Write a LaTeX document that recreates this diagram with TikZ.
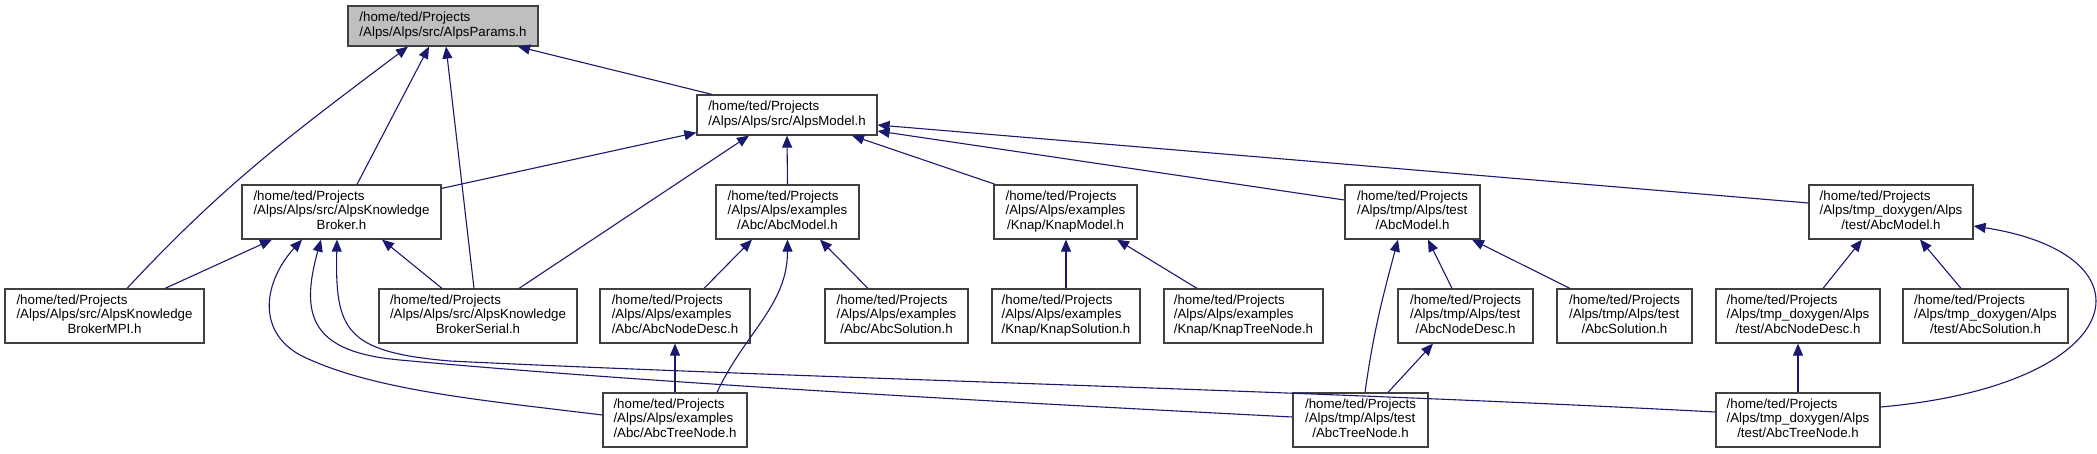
\documentclass[tikz,border=0pt]{standalone}
\usepackage{fontspec}
\setmainfont{Liberation Sans}
\usetikzlibrary{arrows.meta}
\definecolor{edgecol}{RGB}{25,25,112}
\definecolor{boxcol}{RGB}{64,64,64}
\definecolor{rootfill}{RGB}{191,191,191}
\newcommand{\TwoL}[2]{\begin{tabular}{@{}l@{}}#1\\\multicolumn{1}{@{}c@{}}{#2}\end{tabular}}
\newcommand{\ThreeL}[3]{\begin{tabular}{@{}l@{}}#1\\#2\\\multicolumn{1}{@{}c@{}}{#3}\end{tabular}}
\begin{document}
\begin{tikzpicture}[x=1pt,y=-1pt,
  filebox/.style={draw=boxcol, line width=1.2pt, fill=white, inner sep=0pt,
    minimum height=54pt, font=\fontsize{13.3pt}{14.5pt}\selectfont},
  edge/.style={draw=edgecol, line width=1.1pt, -{Triangle[length=12pt,width=10pt]}}]
\fill[white] (0,0) rectangle (2097,453);
\useasboundingbox (0,0) rectangle (2097,453);
% row 1-2
\node[filebox, fill=rootfill, minimum width=190pt, minimum height=40pt] (params) at (443,26) {\TwoL{/home/ted/Projects}{/Alps/Alps/src/AlpsParams.h}};
\node[filebox, minimum width=180pt, minimum height=40pt] (model) at (787,115) {\TwoL{/home/ted/Projects}{/Alps/Alps/src/AlpsModel.h}};
% row 3
\node[filebox, minimum width=199pt] (kb) at (341.5,212) {\ThreeL{/home/ted/Projects}{/Alps/Alps/src/AlpsKnowledge}{Broker.h}};
\node[filebox, minimum width=143pt] (exmodel) at (787.5,212) {\ThreeL{/home/ted/Projects}{/Alps/Alps/examples}{/Abc/AbcModel.h}};
\node[filebox, minimum width=143pt] (knapmodel) at (1065.5,212) {\ThreeL{/home/ted/Projects}{/Alps/Alps/examples}{/Knap/KnapModel.h}};
\node[filebox, minimum width=135pt] (tmpmodel) at (1412.5,212) {\ThreeL{/home/ted/Projects}{/Alps/tmp/Alps/test}{/AbcModel.h}};
\node[filebox, minimum width=164pt] (doxmodel) at (1891,212) {\ThreeL{/home/ted/Projects}{/Alps/tmp\_doxygen/Alps}{/test/AbcModel.h}};
% row 4
\node[filebox, minimum width=199pt] (mpi) at (104.5,316) {\ThreeL{/home/ted/Projects}{/Alps/Alps/src/AlpsKnowledge}{BrokerMPI.h}};
\node[filebox, minimum width=198pt] (serial) at (478,316) {\ThreeL{/home/ted/Projects}{/Alps/Alps/src/AlpsKnowledge}{BrokerSerial.h}};
\node[filebox, minimum width=150pt] (exnodedesc) at (675,316) {\ThreeL{/home/ted/Projects}{/Alps/Alps/examples}{/Abc/AbcNodeDesc.h}};
\node[filebox, minimum width=143pt] (exsolution) at (896.5,316) {\ThreeL{/home/ted/Projects}{/Alps/Alps/examples}{/Abc/AbcSolution.h}};
\node[filebox, minimum width=148pt] (knapsol) at (1066,316) {\ThreeL{/home/ted/Projects}{/Alps/Alps/examples}{/Knap/KnapSolution.h}};
\node[filebox, minimum width=159pt] (knaptree) at (1243.5,316) {\ThreeL{/home/ted/Projects}{/Alps/Alps/examples}{/Knap/KnapTreeNode.h}};
\node[filebox, minimum width=135pt] (tmpnodedesc) at (1465.5,316) {\ThreeL{/home/ted/Projects}{/Alps/tmp/Alps/test}{/AbcNodeDesc.h}};
\node[filebox, minimum width=135pt] (tmpsol) at (1624.5,316) {\ThreeL{/home/ted/Projects}{/Alps/tmp/Alps/test}{/AbcSolution.h}};
\node[filebox, minimum width=164pt] (doxnodedesc) at (1798,316) {\ThreeL{/home/ted/Projects}{/Alps/tmp\_doxygen/Alps}{/test/AbcNodeDesc.h}};
\node[filebox, minimum width=165pt] (doxsol) at (1985.5,316) {\ThreeL{/home/ted/Projects}{/Alps/tmp\_doxygen/Alps}{/test/AbcSolution.h}};
% row 5
\node[filebox, minimum width=144pt] (extree) at (675,420) {\ThreeL{/home/ted/Projects}{/Alps/Alps/examples}{/Abc/AbcTreeNode.h}};
\node[filebox, minimum width=135pt] (tmptree) at (1360.5,420) {\ThreeL{/home/ted/Projects}{/Alps/tmp/Alps/test}{/AbcTreeNode.h}};
\node[filebox, minimum width=164pt] (doxtree) at (1798,420) {\ThreeL{/home/ted/Projects}{/Alps/tmp\_doxygen/Alps}{/test/AbcTreeNode.h}};
% edges to params
\draw[edge] ([xshift=22.5pt]mpi.north) to[out=47,in=217] ([xshift=-35pt]params.south);
\draw[edge] ([xshift=15.5pt]kb.north) -- ([xshift=-14pt]params.south);
\draw[edge] ([xshift=-4pt]serial.north) -- ([xshift=3pt]params.south);
\draw[edge] ([xshift=-75pt]model.north) -- ([xshift=75pt]params.south);
% edges to model
\draw[edge] ([yshift=-4pt]kb.north east) -- ([yshift=3pt]model.south west);
\draw[edge] ([xshift=41pt]serial.north) -- ([xshift=-38pt]model.south);
\draw[edge] (exmodel.north) -- (model.south);
\draw[edge] ([xshift=2pt]knapmodel.north west) -- ([xshift=65pt]model.south);
\draw[edge] ([yshift=12pt]tmpmodel.west) -- ([yshift=-16pt]model.east);
\draw[edge] ([yshift=9pt]doxmodel.west) -- ([yshift=-10pt]model.east);
% edges to kb
\draw[edge] ([xshift=60.5pt]mpi.north) -- ([xshift=-69.5pt]kb.south);
\draw[edge] ([xshift=-36pt]serial.north) -- ([xshift=40.5pt]kb.south);
\draw[edge] ([yshift=5pt]extree.west) .. controls (480,400) and (370,390) .. (300,355)
  .. controls (255,330) and (265,280) .. ([xshift=-39.5pt]kb.south);
\draw[edge] ([yshift=3pt]tmptree.west) .. controls (1000,402) and (650,383) .. (400,360)
  .. controls (310,352) and (300,315) .. ([xshift=-20.5pt]kb.south);
\draw[edge] ([yshift=8pt]doxtree.west) .. controls (1300,390) and (800,378) .. (450,361)
  .. controls (345,352) and (335,330) .. ([xshift=-4.5pt]kb.south);
% examples Abc
\draw[edge] ([xshift=42pt]extree.north) to[out=65,in=-90] (exmodel.south);
\draw[edge] ([xshift=29pt]exnodedesc.north) -- ([xshift=-35.5pt]exmodel.south);
\draw[edge] ([xshift=-28.5pt]exsolution.north) -- ([xshift=32.5pt]exmodel.south);
\draw[edge] (extree.north) -- (exnodedesc.south);
% Knap
\draw[edge] (knapsol.north) -- (knapsol.north |- knapmodel.south);
\draw[edge] ([xshift=-46.5pt]knaptree.north) -- ([xshift=51.5pt]knapmodel.south);
% tmp
\draw[edge] ([xshift=4.5pt]tmptree.north) to[out=82,in=-105] ([xshift=-14.5pt]tmpmodel.south);
\draw[edge] ([xshift=-13.5pt]tmpnodedesc.north) -- ([xshift=15.5pt]tmpmodel.south);
\draw[edge] ([xshift=-54.5pt]tmpsol.north) -- ([xshift=59.5pt]tmpmodel.south);
\draw[edge] ([xshift=27.5pt]tmptree.north) -- ([xshift=-32.5pt]tmpnodedesc.south);
% tmp_doxygen
\draw[edge] ([xshift=25pt]doxnodedesc.north) -- ([xshift=-29pt]doxmodel.south);
\draw[edge] ([xshift=-24.5pt]doxsol.north) -- ([xshift=29pt]doxmodel.south);
\draw[edge] (doxtree.north) -- (doxnodedesc.south);
\draw[edge] ([yshift=13pt]doxtree.east) .. controls (2130,385) and (2160,255) .. ([yshift=-14pt]doxmodel.east);
\end{tikzpicture}
\end{document}
